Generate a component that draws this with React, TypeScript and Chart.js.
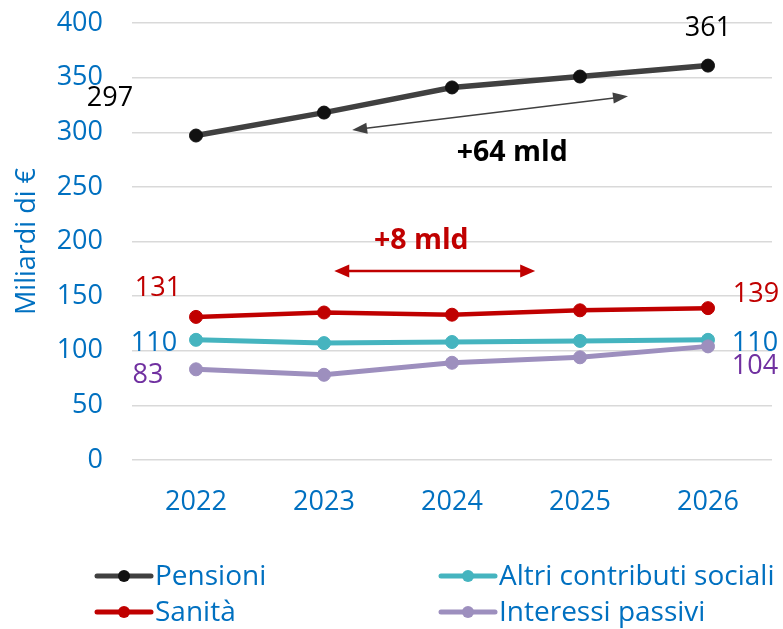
import React, { useEffect, useRef } from "react";
import { Chart, registerables } from "chart.js";

Chart.register(...registerables);

const categories = ["2022", "2023", "2024", "2025", "2026"];
const pensioni = [297, 318, 341, 351, 361];
const sanita = [131, 135, 133, 137, 139];
const altri = [110, 107, 108, 109, 110];
const interessi = [83, 78, 89, 94, 104];
const yMin = 0;
const yMax = 400;
const yStep = 50;
const yTitle = "Miliardi di €";
const seriesNames = ["Pensioni", "Sanità", "Altri contributi sociali", "Interessi passivi"];
const deltaPensioni = "+64 mld";
const deltaSanita = "+8 mld";

const FONT = "'Open Sans', sans-serif";
const BLUE = "#0070C0";

const colors = {
  pensioni: "#404040",
  sanita: "#C00000",
  altri: "#45B4BF",
  interessi: "#9D8FBE",
};

function drawArrow(ctx: CanvasRenderingContext2D, x1: number, y1: number, x2: number, y2: number, color: string, lw: number, hl: number, hw: number) {
  const ang = Math.atan2(y2 - y1, x2 - x1);
  const cos = Math.cos(ang), sin = Math.sin(ang);
  ctx.save();
  ctx.strokeStyle = color;
  ctx.fillStyle = color;
  ctx.lineWidth = lw;
  ctx.beginPath();
  ctx.moveTo(x1 + cos * hl * 0.8, y1 + sin * hl * 0.8);
  ctx.lineTo(x2 - cos * hl * 0.8, y2 - sin * hl * 0.8);
  ctx.stroke();
  const head = (x: number, y: number, dir: number) => {
    const bx = x - dir * cos * hl, by = y - dir * sin * hl;
    ctx.beginPath();
    ctx.moveTo(x, y);
    ctx.lineTo(bx - sin * hw / 2, by + cos * hw / 2);
    ctx.lineTo(bx + sin * hw / 2, by - cos * hw / 2);
    ctx.closePath();
    ctx.fill();
  };
  head(x2, y2, 1);
  head(x1, y1, -1);
  ctx.restore();
}

const overlayPlugin = {
  id: "overlay",
  afterDraw(chart: any) {
    const ctx: CanvasRenderingContext2D = chart.ctx;
    const xs = chart.scales.x;
    const ys = chart.scales.y;
    const px = (i: number) => xs.getPixelForValue(i);
    const py = (v: number) => ys.getPixelForValue(v);
    const last = categories.length - 1;

    ctx.save();
    ctx.textAlign = "center";
    ctx.textBaseline = "middle";
    ctx.font = `27px ${FONT}`;
    const label = (txt: string, x: number, y: number, color: string) => {
      ctx.fillStyle = color;
      ctx.fillText(txt, x, y);
    };
    // end labels
    label(String(pensioni[0]), px(0) - 86, py(pensioni[0]) - 37, "#000");
    label(String(pensioni[last]), px(last), py(pensioni[last]) - 37, "#000");
    label(String(sanita[0]), px(0) - 38, py(sanita[0]) - 29, "#C00000");
    label(String(sanita[last]), px(last) + 48, py(sanita[last]) - 14, "#C00000");
    label(String(altri[0]), px(0) - 42, py(altri[0]) + 3, BLUE);
    label(String(altri[last]), px(last) + 47, py(altri[last]) + 3, BLUE);
    label(String(interessi[0]), px(0) - 48, py(interessi[0]) + 6, "#7030A0");
    label(String(interessi[last]), px(last) + 47, py(interessi[last]) + 20, "#7030A0");

    // arrows
    drawArrow(ctx, px(1.22), py(302), px(3.375), py(333), "#404040", 1.5, 15, 11);
    drawArrow(ctx, px(1.08), py(173), px(2.65), py(173), "#C00000", 2.5, 15, 13);

    ctx.font = `bold 28.5px ${FONT}`;
    label(deltaPensioni, px(2.47), py(281), "#000");
    label(deltaSanita, px(1.76), py(201), "#C00000");

    // legend
    const items = [
      { name: seriesNames[0], color: colors.pensioni, dot: "#111", x: 97, y: 576 },
      { name: seriesNames[1], color: colors.sanita, dot: colors.sanita, x: 97, y: 612 },
      { name: seriesNames[2], color: colors.altri, dot: colors.altri, x: 441, y: 576 },
      { name: seriesNames[3], color: colors.interessi, dot: colors.interessi, x: 441, y: 612 },
    ];
    ctx.font = `28px ${FONT}`;
    ctx.textAlign = "left";
    for (const it of items) {
      ctx.strokeStyle = it.color;
      ctx.lineWidth = 5;
      ctx.lineCap = "round";
      ctx.beginPath();
      ctx.moveTo(it.x, it.y);
      ctx.lineTo(it.x + 54, it.y);
      ctx.stroke();
      ctx.fillStyle = it.dot;
      ctx.beginPath();
      ctx.arc(it.x + 27, it.y, 6, 0, Math.PI * 2);
      ctx.fill();
      ctx.fillStyle = BLUE;
      ctx.fillText(it.name, it.x + 58, it.y + 1);
    }
    ctx.restore();
  },
};

export default function App() {
  const ref = useRef<HTMLCanvasElement | null>(null);
  useEffect(() => {
    if (!ref.current) return;
    const mk = (label: string, data: number[], color: string, dot: string, bw: number) => ({
      label,
      data,
      borderColor: color,
      backgroundColor: dot,
      borderWidth: bw,
      pointRadius: 6.5,
      pointBackgroundColor: dot,
      pointBorderColor: dot,
      pointBorderWidth: 1,
      tension: 0,
    });
    const chart = new Chart(ref.current, {
      type: "line",
      data: {
        labels: categories,
        datasets: [
          mk(seriesNames[3], interessi, colors.interessi, colors.interessi, 5),
          mk(seriesNames[2], altri, colors.altri, colors.altri, 5),
          mk(seriesNames[1], sanita, colors.sanita, colors.sanita, 4.5),
          mk(seriesNames[0], pensioni, colors.pensioni, "#111", 5.5),
        ],
      },
      options: {
        responsive: false,
        animation: false,
        layout: { padding: { top: 23, right: 11, bottom: 99, left: 0 } },
        plugins: { legend: { display: false }, tooltip: { enabled: false } },
        scales: {
          x: {
            offset: true,
            grid: { display: false, drawTicks: false },
            border: { display: false },
            ticks: { color: BLUE, font: { family: FONT, size: 27 }, padding: 26 },
            afterFit: (s: any) => { s.height = 70; },
          },
          y: {
            min: yMin,
            max: yMax,
            ticks: { stepSize: yStep, color: BLUE, font: { family: FONT, size: 27 }, padding: 29 },
            grid: { color: "#D9D9D9", lineWidth: 1.5, drawTicks: false },
            border: { display: false },
            title: { display: true, text: yTitle, color: BLUE, font: { family: FONT, size: 27 }, padding: { top: 11, bottom: 0 } },
            afterFit: (s: any) => { s.width = 132; s.paddingTop = 0; s.paddingBottom = 0; },
          },
        },
      },
      plugins: [overlayPlugin],
    } as any);
    return () => chart.destroy();
  }, []);
  return (
    <div style={{ position: "fixed", left: 0, top: 0, width: 783, height: 629, background: "#fff" }}>
      <canvas ref={ref} width={783} height={629} style={{ width: 783, height: 629, display: "block" }} />
    </div>
  );
}
